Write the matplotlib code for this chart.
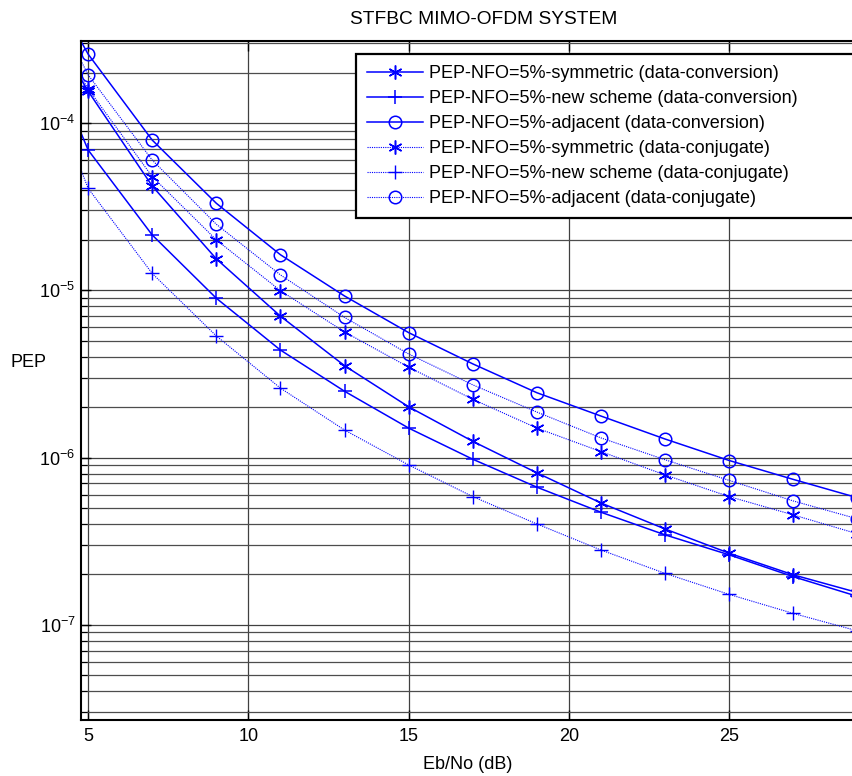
from matplotlib import pyplot as plt

plt.rcParams['font.family'] = ['Liberation Sans', 'DejaVu Sans']
plt.rcParams['axes.unicode_minus'] = False

ebno = [3, 5, 7, 9, 11, 13, 15, 17, 19, 21, 23, 25, 27, 29]

# PEP, NFO = 5%, data-conversion
sym_conv = [6.8e-4, 1.55e-4, 4.2e-5, 1.54e-5, 7.0e-6, 3.54e-6, 2.01e-6,
            1.25e-6, 8.1e-7, 5.35e-7, 3.74e-7, 2.68e-7, 1.99e-7, 1.56e-7]
new_conv = [5.7e-4, 6.9e-5, 2.14e-5, 8.96e-6, 4.39e-6, 2.49e-6, 1.5e-6,
            9.77e-7, 6.65e-7, 4.71e-7, 3.45e-7, 2.62e-7, 1.94e-7, 1.48e-7]
adj_conv = [1.26e-3, 2.58e-4, 7.9e-5, 3.31e-5, 1.63e-5, 9.24e-6, 5.58e-6,
            3.63e-6, 2.44e-6, 1.77e-6, 1.29e-6, 9.6e-7, 7.4e-7, 5.75e-7]

# PEP, NFO = 5%, data-conjugate
sym_conj = [7.2e-4, 1.6e-4, 4.78e-5, 2.0e-5, 9.94e-6, 5.63e-6, 3.47e-6,
            2.23e-6, 1.5e-6, 1.085e-6, 7.87e-7, 5.84e-7, 4.54e-7, 3.5e-7]
new_conj = [4.0e-4, 4.07e-5, 1.26e-5, 5.33e-6, 2.6e-6, 1.46e-6, 9.03e-7,
            5.84e-7, 4.01e-7, 2.8e-7, 2.03e-7, 1.52e-7, 1.17e-7, 9.2e-8]
adj_conj = [1.12e-3, 1.94e-4, 6.0e-5, 2.48e-5, 1.235e-5, 6.88e-6, 4.16e-6,
            2.72e-6, 1.87e-6, 1.31e-6, 9.7e-7, 7.3e-7, 5.5e-7, 4.3e-7]

labels = ['PEP-NFO=5%-symmetric (data-conversion)',
          'PEP-NFO=5%-new scheme (data-conversion)',
          'PEP-NFO=5%-adjacent (data-conversion)',
          'PEP-NFO=5%-symmetric (data-conjugate)',
          'PEP-NFO=5%-new scheme (data-conjugate)',
          'PEP-NFO=5%-adjacent (data-conjugate)']

asterisk = (6, 2, 0)
dots = (0, (1, 1))

fig = plt.figure(figsize=(8.53, 7.76), dpi=100)
ax = fig.add_axes([0.095, 0.0722, 0.926, 0.875])

ax.plot(ebno, sym_conv, color='b', lw=1.1, marker=asterisk, ms=10, mew=1.1, label=labels[0])
ax.plot(ebno, new_conv, color='b', lw=1.1, marker='+', ms=10, mew=1.1, label=labels[1])
ax.plot(ebno, adj_conv, color='b', lw=1.1, marker='o', ms=9, mfc='none', mew=1.1, label=labels[2])
ax.plot(ebno, sym_conj, color='b', lw=0.8, ls=dots, marker=asterisk, ms=10, mew=1.1, label=labels[3])
ax.plot(ebno, new_conj, color='b', lw=0.8, ls=dots, marker='+', ms=10, mew=1.0, label=labels[4])
ax.plot(ebno, adj_conj, color='b', lw=0.8, ls=dots, marker='o', ms=9, mfc='none', mew=1.1, label=labels[5])

ax.set_yscale('log')
ax.set_xlim(4.78, 29.42)
ax.set_ylim(2.7e-8, 3.09e-4)
ax.set_xticks([5, 10, 15, 20, 25])

ax.grid(True, which='major', color='0.25', lw=0.9, ls='-')
ax.grid(True, which='minor', axis='y', color='0.3', lw=0.9, ls='-')
ax.set_axisbelow(True)

for s in ax.spines.values():
    s.set_linewidth(1.5)
ax.tick_params(which='both', direction='in', top=True, right=True, labelsize=13)
ax.tick_params(which='major', length=7, width=1.0, pad=6)
ax.tick_params(which='minor', length=4, width=0.8)
ax.tick_params(axis='y', pad=4)

ax.set_title('STFBC MIMO-OFDM SYSTEM', fontsize=13.8, pad=12, x=0.51)
ax.set_xlabel('Eb/No (dB)', fontsize=13, va='center')
ax.xaxis.set_label_coords(0.49, -0.066)
ax.set_ylabel('PEP', fontsize=13, rotation=0, ha='center', va='center')
ax.yaxis.set_label_coords(-0.067, 0.526)

leg = ax.legend(loc='upper left', bbox_to_anchor=(0.4174, 0.0, 0.62, 0.9304),
                bbox_transform=fig.transFigure, mode='expand', borderaxespad=0,
                fontsize=13, numpoints=1, handlelength=3.1, handletextpad=0.35,
                labelspacing=0.45, borderpad=0.6, fancybox=False, framealpha=1)
leg.get_frame().set_edgecolor('black')
leg.get_frame().set_linewidth(1.6)

plt.savefig('out.png', dpi=100)
